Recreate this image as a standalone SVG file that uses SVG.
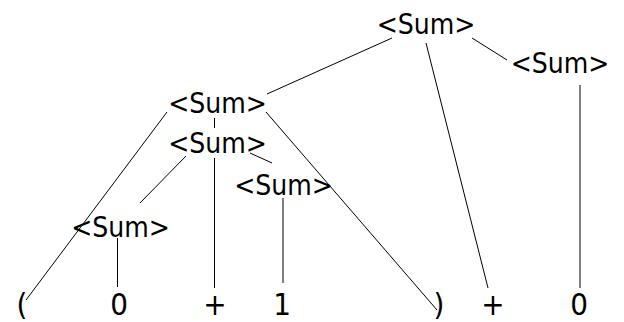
<svg xmlns="http://www.w3.org/2000/svg" width="624" height="322" viewBox="0 0 624 322">
<style>
.n{font-family:'DejaVu Sans Condensed','DejaVu Sans',sans-serif;font-stretch:condensed;font-size:28px;fill:#000;text-anchor:middle}
.t{font-family:'DejaVu Sans Condensed','DejaVu Sans',sans-serif;font-stretch:condensed;font-size:31px;fill:#000;text-anchor:middle}
.e{stroke:#000;stroke-width:1;fill:none}
</style>
<rect width="624" height="322" fill="#fff"/>
<g id="connectors">
<line class="e" x1="392" y1="38" x2="267" y2="94"/>
<line class="e" x1="472" y1="38" x2="507" y2="60"/>
<line class="e" x1="426" y1="43" x2="488" y2="288"/>
<line class="e" x1="580" y1="85" x2="580" y2="288"/>
<line class="e" x1="167" y1="112" x2="26" y2="300"/>
<line class="e" x1="214.5" y1="118" x2="214.5" y2="128"/>
<line class="e" x1="266" y1="112" x2="437" y2="310"/>
<line class="e" x1="186" y1="156" x2="140" y2="203"/>
<line class="e" x1="214.5" y1="158" x2="214.5" y2="288"/>
<line class="e" x1="250" y1="153" x2="272" y2="163"/>
<line class="e" x1="283" y1="198" x2="283" y2="283"/>
<line class="e" x1="117.5" y1="238" x2="117.5" y2="287"/>
</g>
<g id="sum1"><text class="n" x="426" y="34">&lt;Sum&gt;</text></g>
<g id="sum2"><text class="n" x="560" y="73">&lt;Sum&gt;</text></g>
<g id="sum3"><text class="n" x="217.5" y="113">&lt;Sum&gt;</text></g>
<g id="sum4"><text class="n" x="217.5" y="153">&lt;Sum&gt;</text></g>
<g id="sum5"><text class="n" x="283.5" y="195">&lt;Sum&gt;</text></g>
<g id="sum6"><text class="n" x="120.5" y="237">&lt;Sum&gt;</text></g>
<g id="lparen"><text class="t" x="22" y="315">(</text></g>
<g id="zero1"><text class="t" x="119" y="315">0</text></g>
<g id="plus1"><text class="t" x="215" y="315">+</text></g>
<g id="one"><text class="t" x="282" y="315">1</text></g>
<g id="rparen"><text class="t" x="439" y="315">)</text></g>
<g id="plus2"><text class="t" x="493" y="315">+</text></g>
<g id="zero2"><text class="t" x="579" y="315">0</text></g>
</svg>
